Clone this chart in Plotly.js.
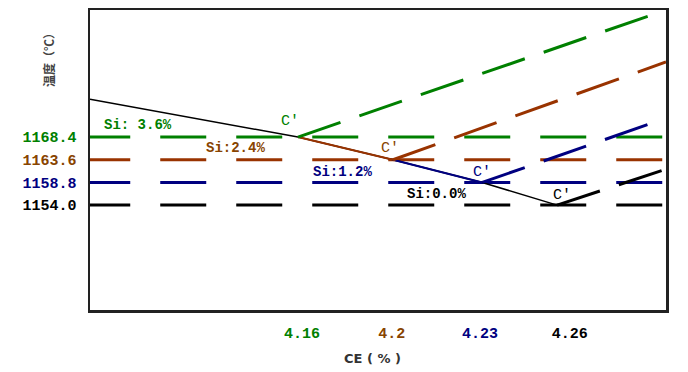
<!DOCTYPE html>
<html><head><meta charset="utf-8">
<script src="https://cdn.plot.ly/plotly-3.0.1.min.js"></script>
<style>html,body{margin:0;padding:0;background:#fff}#chart{width:688px;height:372px}</style>
</head><body><div id="chart"></div>
<script>
// --- data (x in schematic axis units 0..100, y in °C) ---
var siLabels   = ['Si: 3.6%', 'Si:2.4%', 'Si:1.2%', 'Si:0.0%'];
var seriesColors = ['#008000', '#993300', '#000080', '#000000'];
var textColors   = ['#008000', '#884400', '#000080', '#000000'];
var eutecticT  = [1168.4, 1163.6, 1158.8, 1154.0];   // horizontal lines
var tempTickLabels = ['1168.4', '1163.6', '1158.8', '1154.0'];
var cPointX    = [36.1, 52.6, 68.1, 81.1];           // C' points along x
var liquidusX0 = 0, liquidusT0 = 1176.4;              // start of the black curve
var risingEndX = [100, 100, 100, 100];
var risingEndT = [1195.3, 1184.3, 1172.4, 1161.6];
var ceTickPos    = [36.8, 52.4, 67.7, 83.3];
var ceTickLabels = ['4.16', '4.2', '4.23', '4.26'];
var siLabelX = [8.3, 25.2, 43.75, 60.2];
var siLabelT = [1170.9, 1166.1, 1161.0, 1156.3];
var cLabelX  = [34.7, 52.1, 68.1, 81.9];
var cLabelT  = [1171.6, 1165.9, 1160.8, 1156.1];

var traces = [];
// horizontal dashed lines
for (var i = 0; i < 4; i++) {
  traces.push({x: [-1, 100], y: [eutecticT[i], eutecticT[i]], mode: 'lines',
    line: {color: seriesColors[i], width: 3, dash: '46px,30px'}, hoverinfo: 'skip'});
}
// black solid curve through the C' points
traces.push({x: [liquidusX0].concat(cPointX), y: [liquidusT0].concat(eutecticT), mode: 'lines',
  line: {color: '#000', width: 1.5}, hoverinfo: 'skip'});
// coloured segments between C' points
traces.push({x: [cPointX[0], cPointX[1]], y: [eutecticT[0], eutecticT[1]], mode: 'lines',
  line: {color: seriesColors[1], width: 2}, hoverinfo: 'skip'});
traces.push({x: [cPointX[1], cPointX[2]], y: [eutecticT[1], eutecticT[2]], mode: 'lines',
  line: {color: seriesColors[2], width: 2}, hoverinfo: 'skip'});
// rising dashed lines from C'
for (var j = 0; j < 4; j++) {
  traces.push({x: [cPointX[j], risingEndX[j]], y: [eutecticT[j], risingEndT[j]], mode: 'lines',
    line: {color: seriesColors[j], width: 3, dash: '45px,20px'}, hoverinfo: 'skip'});
}

var FONT = 'Liberation Mono, monospace';
var ann = [];
for (var k = 0; k < 4; k++) {
  ann.push({x: siLabelX[k], y: siLabelT[k], xref: 'x', yref: 'y', text: '<b>' + siLabels[k] + '</b>',
    showarrow: false, font: {family: FONT, size: 14, color: textColors[k]}});
  ann.push({x: cLabelX[k], y: cLabelT[k], xref: 'x', yref: 'y', text: 'C′',
    showarrow: false, font: {family: FONT, size: 15, color: textColors[k]}});
}
ann.push({x: -0.073, y: 0.843, xref: 'paper', yref: 'paper', xanchor: 'center', yanchor: 'middle',
  text: '<b>温度（℃）</b>', textangle: -90,
  showarrow: false, font: {family: 'Noto Sans CJK SC', size: 12, color: '#444'}});
ann.push({x: 0.49, y: -0.163, xref: 'paper', yref: 'paper', xanchor: 'center', yanchor: 'middle',
  text: '<b>CE ( % )</b>',
  showarrow: false, font: {family: 'DejaVu Sans', size: 13, color: '#333'}});

function colored(labels, colors) {
  return labels.map(function (t, i) { return '<span style="color:' + colors[i] + '"><b>' + t + '</b></span>'; });
}

var layout = {
  width: 688, height: 372,
  margin: {l: 90, r: 22, t: 10, b: 62},
  paper_bgcolor: '#fff', plot_bgcolor: '#fff',
  showlegend: false,
  xaxis: {range: [0, 100], showgrid: false, zeroline: false, showline: true, mirror: true,
    linecolor: '#222', linewidth: 2.5, tickmode: 'array', tickvals: ceTickPos,
    ticktext: colored(ceTickLabels, textColors), ticks: 'outside', ticklen: 7, tickcolor: 'rgba(0,0,0,0)',
    tickfont: {family: FONT, size: 15}},
  yaxis: {range: [1131.8, 1195.3], showgrid: false, zeroline: false, showline: true, mirror: true,
    linecolor: '#222', linewidth: 2.5, tickmode: 'array', tickvals: eutecticT,
    ticktext: colored(tempTickLabels, textColors), ticks: 'outside', ticklen: 8,
    tickcolor: 'rgba(0,0,0,0)', tickfont: {family: FONT, size: 15}},
  annotations: ann
};
Plotly.newPlot('chart', traces, layout, {displayModeBar: false, staticPlot: true});
</script></body></html>
